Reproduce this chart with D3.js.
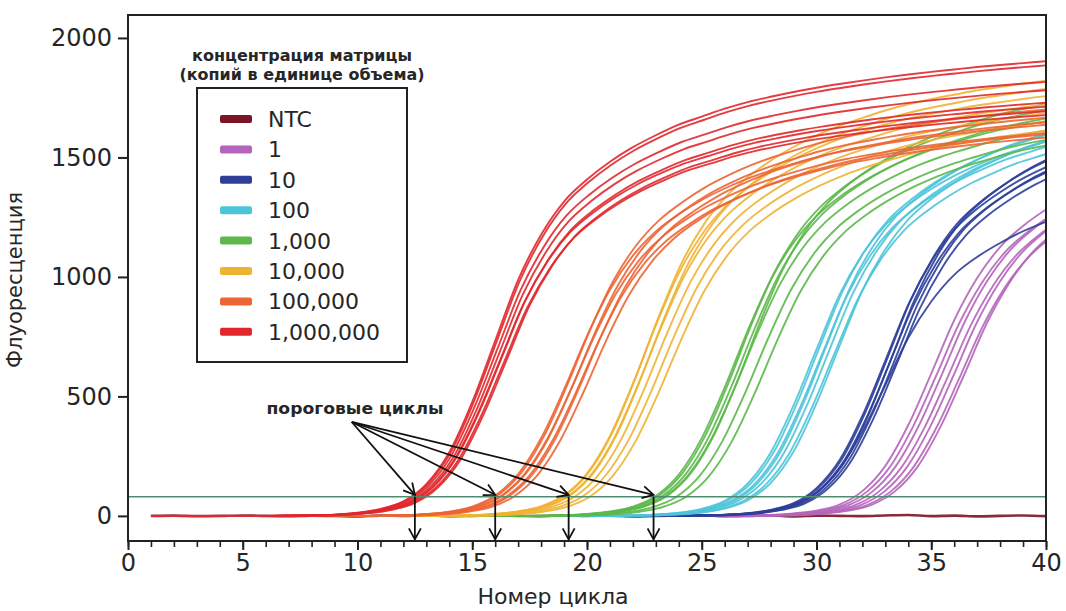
<!DOCTYPE html>
<html>
<head>
<meta charset="utf-8">
<script src="https://cdn.jsdelivr.net/npm/d3@7"></script>
<style>
  body { margin: 0; background: #fff; }
  text { font-family: "DejaVu Sans", sans-serif; fill: #262626; }
</style>
</head>
<body>
<div id="chart"></div>
<script>
var width = 1066;
var height = 611;

// cycle numbers (x)
var cycles = [1,2,3,4,5,6,7,8,9,10,11,12,13,14,15,16,17,18,19,20,
              21,22,23,24,25,26,27,28,29,30,31,32,33,34,35,36,37,38,39,40];

// fluorescence, earliest replicate of each group
var ntc = [0,1,-1,0,2,0,-1,1,0,-2,1,0,2,-1,0,1,0,-1,2,0,1,-2,0,1,3,-1,0,2,-2,1,0,-1,2,4,-1,1,-2,0,2,-1];
var c1 = [0,0,0,0,0,0,0,0,0,0,0,0,0,0,0,0,0,0,0,0,0,0,0,0,0,
          1,2,4,11,23,49,107,216,392,614,844,1026,1160,1251,1322];
var c10 = [0,0,0,0,0,0,0,0,0,0,0,0,0,0,0,0,0,0,0,0,0,0,0,
           1,2,5,11,25,52,114,228,411,637,867,1043,1173,1260,1328,1385,1431];
var c100 = [0,0,0,0,0,0,0,0,0,0,0,0,0,0,0,0,0,0,0,0,
            1,2,6,13,29,62,132,259,453,683,907,1073,1193,1275,1341,1395,1439,1478,1508,1538];
var c1k = [0,0,0,0,0,0,0,0,0,0,0,0,0,0,0,0,0,
           1,3,8,18,38,81,168,316,522,752,958,1110,1218,1295,1357,1408,1451,1487,1517,1545,1568,1587,1604];
var c10k = [0,0,0,0,0,0,0,0,0,0,0,0,0,
            1,3,8,18,38,81,168,316,522,752,958,1110,1218,1295,1357,1408,1451,1487,1517,1545,1568,1587,1604,1620,1633,1646,1657];
var c100k = [0,0,0,0,0,0,0,0,0,0,
             1,3,8,18,39,85,175,325,529,752,946,1089,1190,1262,1322,1370,1411,1445,1474,1501,1523,1541,1558,1573,1586,1598,1609,1619,1628,1637];
var c1m = [0,0,0,0,0,0,
           1,2,5,12,26,55,120,240,430,660,890,1060,1185,1268,1335,1390,1435,1475,1505,1535,1560,1580,1598,1614,1628,1641,1653,1664,1674,1683,1692,1700,1707,1714];

// replicates: [delay in cycles, plateau factor]
var repNtc = [[0, 1]];
var rep1 = [[0,0.97],[0.2,0.95],[0.45,0.96],[0.7,0.94],[0.95,0.95],[1.2,0.93],[1.4,0.95]];
var rep10 = [[0,1.02],[0.1,1.04],[0.2,1.01],[0.3,1.05],[0.4,1.02],[0.5,1.0],[0,0.86]];
var rep100 = [[0,1.02],[0.15,1.04],[0.3,1.01],[0.45,1.05],[0.6,1.03],[0.8,1.0],[1.0,1.04]];
var rep1k = [[0,1.03],[0.15,1.06],[0.3,1.04],[0.4,1.01],[0.55,1.08],[0.9,0.99],[1.3,0.98]];
var rep10k = [[0,1.06],[0.1,1.1],[0.2,1.04],[0.3,1.08],[0.5,1.02],[0.8,1.0],[1.1,0.98]];
var rep100k = [[0,1.0],[0.15,1.04],[0.25,0.98],[0.35,1.02],[0.5,0.97],[0.65,1.01],[0.85,0.98]];
var rep1m = [[0,1.11],[0.05,1.1],[0.1,1.06],[0.2,1.04],[0.25,1.0],[0.3,1.01],[0.4,0.98],[0.5,0.99]];

var labels = ["NTC", "1", "10", "100", "1,000", "10,000", "100,000", "1,000,000"];
var colors = ["#7a1426", "#b565bb", "#2e3f99", "#4cc4d9", "#5cb84a", "#f0b232", "#ec6535", "#e0282c"];

var thresholdValue = 80;
var thresholdCycles = [12.5, 16.0, 19.2, 22.9];
var xTicks = [0, 5, 10, 15, 20, 25, 30, 35, 40];
var yTicks = [0, 500, 1000, 1500, 2000];

var groups = [
  { values: ntc, reps: repNtc },
  { values: c1, reps: rep1 },
  { values: c10, reps: rep10 },
  { values: c100, reps: rep100 },
  { values: c1k, reps: rep1k },
  { values: c10k, reps: rep10k },
  { values: c100k, reps: rep100k },
  { values: c1m, reps: rep1m }
];

var x = d3.scaleLinear().domain([0, 40]).range([128, 1046]);
var y = d3.scaleLinear().domain([-105, 2096]).range([541, 15]);

var svg = d3.select("#chart").append("svg")
  .attr("width", width)
  .attr("height", height);

var defs = svg.append("defs");
defs.append("clipPath").attr("id", "plot")
  .append("rect")
  .attr("x", 128).attr("y", 15).attr("width", 918).attr("height", 526);

defs.append("marker")
  .attr("id", "arr")
  .attr("viewBox", "0 0 14 14")
  .attr("refX", 12).attr("refY", 7)
  .attr("markerWidth", 14).attr("markerHeight", 14)
  .attr("markerUnits", "userSpaceOnUse")
  .attr("orient", "auto")
  .append("path")
  .attr("d", "M1,1 L12,7 L1,13")
  .attr("fill", "none")
  .attr("stroke", "#111")
  .attr("stroke-width", 1.8);

var line = d3.line()
  .x(function(d) { return x(d[0]); })
  .y(function(d) { return y(d[1]); })
  .curve(d3.curveMonotoneX);

var curves = svg.append("g").attr("clip-path", "url(#plot)");

groups.forEach(function(g, gi) {
  g.reps.forEach(function(r) {
    var pts = cycles.map(function(c, i) { return [c + r[0], g.values[i] * r[1]]; });
    curves.append("path")
      .attr("d", line(pts))
      .attr("fill", "none")
      .attr("stroke", colors[gi])
      .attr("stroke-width", gi === 0 ? 2.6 : 1.9)
      .attr("stroke-opacity", 0.9);
  });
});

// threshold line
svg.append("line")
  .attr("x1", x(0)).attr("x2", x(40))
  .attr("y1", y(thresholdValue)).attr("y2", y(thresholdValue))
  .attr("stroke", "#4d8c6e")
  .attr("stroke-width", 1.6);

// axes
var xMinor = d3.axisBottom(x).ticks(40).tickSize(6).tickFormat("");
svg.append("g").attr("transform", "translate(0,541)").call(xMinor)
  .call(function(g) { g.select(".domain").remove(); })
  .selectAll("line").attr("stroke", "#222").attr("stroke-width", 1.6);

var xAxis = d3.axisBottom(x).tickValues(xTicks).tickSize(9).tickPadding(4).tickFormat(d3.format("d"));
svg.append("g").attr("transform", "translate(0,541)").call(xAxis)
  .call(function(g) { g.select(".domain").remove(); })
  .call(function(g) {
    g.selectAll("line").attr("stroke", "#222").attr("stroke-width", 2);
    g.selectAll("text").attr("font-size", 24).attr("font-family", "DejaVu Sans").attr("fill", "#262626");
  });

var yAxis = d3.axisLeft(y).tickValues(yTicks).tickSize(10).tickPadding(6).tickFormat(d3.format("d"));
svg.append("g").attr("transform", "translate(128,0)").call(yAxis)
  .call(function(g) { g.select(".domain").remove(); })
  .call(function(g) {
    g.selectAll("line").attr("stroke", "#222").attr("stroke-width", 2);
    g.selectAll("text").attr("font-size", 24).attr("font-family", "DejaVu Sans").attr("fill", "#262626");
  });

svg.append("rect")
  .attr("x", 128).attr("y", 15).attr("width", 918).attr("height", 526)
  .attr("fill", "none").attr("stroke", "#222").attr("stroke-width", 2);

// axis titles
svg.append("text")
  .attr("x", 553).attr("y", 604)
  .attr("text-anchor", "middle")
  .attr("font-size", 22)
  .text("Номер цикла");

svg.append("text")
  .attr("transform", "translate(22,280) rotate(-90)")
  .attr("text-anchor", "middle")
  .attr("font-size", 21)
  .text("Флуоресценция");

// annotation arrows
var origin = [9.75, 393];
var ann = svg.append("g");
thresholdCycles.forEach(function(ct) {
  ann.append("line")
    .attr("x1", x(origin[0])).attr("y1", y(origin[1]))
    .attr("x2", x(ct)).attr("y2", y(thresholdValue) - 2)
    .attr("stroke", "#111").attr("stroke-width", 1.8)
    .attr("marker-end", "url(#arr)");
  ann.append("line")
    .attr("x1", x(ct)).attr("y1", y(thresholdValue))
    .attr("x2", x(ct)).attr("y2", y(-98))
    .attr("stroke", "#111").attr("stroke-width", 1.8)
    .attr("marker-end", "url(#arr)");
});

svg.append("text")
  .attr("x", 355).attr("y", 414)
  .attr("text-anchor", "middle")
  .attr("font-size", 15)
  .attr("font-weight", "bold")
  .attr("textLength", 177)
  .attr("lengthAdjust", "spacingAndGlyphs")
  .text("пороговые циклы");

// legend
svg.append("text")
  .attr("x", 302).attr("y", 61)
  .attr("text-anchor", "middle")
  .attr("font-size", 15)
  .attr("font-weight", "bold")
  .attr("textLength", 220)
  .attr("lengthAdjust", "spacingAndGlyphs")
  .text("концентрация матрицы");
svg.append("text")
  .attr("x", 302).attr("y", 80)
  .attr("text-anchor", "middle")
  .attr("font-size", 15)
  .attr("font-weight", "bold")
  .attr("textLength", 245)
  .attr("lengthAdjust", "spacingAndGlyphs")
  .text("(копий в единице объема)");

svg.append("rect")
  .attr("x", 197).attr("y", 88).attr("width", 210).attr("height", 274)
  .attr("fill", "#fff").attr("stroke", "#222").attr("stroke-width", 2);

var item = svg.selectAll(".item")
  .data(labels)
  .enter().append("g")
  .attr("class", "item")
  .attr("transform", function(d, i) { return "translate(220," + (119 + i * 30.4) + ")"; });

item.append("rect")
  .attr("x", 0).attr("y", -4).attr("width", 32).attr("height", 8).attr("rx", 2)
  .attr("fill", function(d, i) { return colors[i]; });

item.append("text")
  .attr("x", 48).attr("dy", "0.36em")
  .attr("font-size", 22)
  .text(function(d) { return d; });
</script>
</body>
</html>
